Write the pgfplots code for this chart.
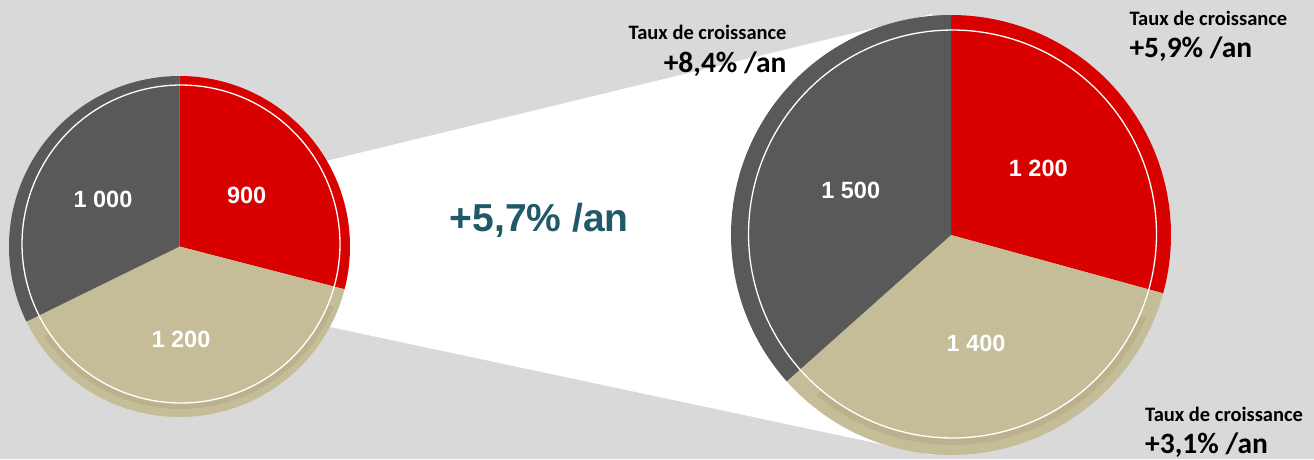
\documentclass[border=0pt]{standalone}
\usepackage{pgfplots}
\usepackage{pgfplotstable}
\pgfplotsset{compat=1.18}
\usepackage{fontspec}
\setmainfont{Liberation Sans}
\newfontfamily\calib{Carlito}
\definecolor{bg}{HTML}{D9D9D9}
\definecolor{cRed}{HTML}{D90000}
\definecolor{cGray}{HTML}{595959}
\definecolor{cTan}{HTML}{C4BD97}
\definecolor{cTanDark}{HTML}{ACA682}
\definecolor{cTeal}{HTML}{215968}

\pgfplotstableread{
part value
red 900
tan 1200
gray 1000
}\leftpie
\pgfplotstableread{
part value
red 1200
tan 1400
gray 1500
}\rightpie

\pgfplotstablegetelem{0}{value}\of\leftpie \let\La\pgfplotsretval
\pgfplotstablegetelem{1}{value}\of\leftpie \let\Lb\pgfplotsretval
\pgfplotstablegetelem{2}{value}\of\leftpie \let\Lc\pgfplotsretval
\pgfplotstablegetelem{0}{value}\of\rightpie \let\Ra\pgfplotsretval
\pgfplotstablegetelem{1}{value}\of\rightpie \let\Rb\pgfplotsretval
\pgfplotstablegetelem{2}{value}\of\rightpie \let\Rc\pgfplotsretval
\pgfmathsetmacro\LT{\La+\Lb+\Lc}
\pgfmathsetmacro\LaEnd{90-360*(\La/\LT)}
\pgfmathsetmacro\LbEnd{\LaEnd-360*(\Lb/\LT)}
\pgfmathsetmacro\RT{\Ra+\Rb+\Rc}
\pgfmathsetmacro\RaEnd{90-360*(\Ra/\RT)}
\pgfmathsetmacro\RbEnd{\RaEnd-360*(\Rb/\RT)}

% geometry (pixel units)
\def\Lcx{179.5}\def\Lcy{246.5}\def\LR{170.5}
\def\Lwx{181}\def\Lwy{244}\def\Lwr{159}
\def\Rcx{951}\def\Rcy{235}\def\RR{220}
\def\Rwx{952.5}\def\Rwy{234}\def\Rwr{204}

\begin{document}
\begin{tikzpicture}
\useasboundingbox (0,0) rectangle (1314pt,459pt);
\begin{axis}[
  width=1314pt, height=459pt, scale only axis,
  xmin=0, xmax=1314, ymin=0, ymax=459, y dir=reverse,
  hide axis, clip=true,
]
% background
\addplot[fill=bg, draw=none] coordinates {(0,0) (1314,0) (1314,459) (0,459)} -- cycle;
% connector
\addplot[fill=white, draw=none] coordinates {(300,167.3) (932,14) (932,455) (300,320.6)} -- cycle;

% left pie
\addplot[fill=cRed, draw=none, domain=\LaEnd:90, samples=100, variable=\t]
  ({\Lcx+\LR*cos(\t)},{\Lcy-\LR*sin(\t)}) -- (axis cs:\Lcx,\Lcy) -- cycle;
\addplot[fill=cTan, draw=none, domain=\LbEnd:\LaEnd, samples=100, variable=\t]
  ({\Lcx+\LR*cos(\t)},{\Lcy-\LR*sin(\t)}) -- (axis cs:\Lcx,\Lcy) -- cycle;
\addplot[fill=cGray, draw=none, domain=-270:\LbEnd, samples=100, variable=\t]
  ({\Lcx+\LR*cos(\t)},{\Lcy-\LR*sin(\t)}) -- (axis cs:\Lcx,\Lcy) -- cycle;
% soft shade on the bottom rim
\addplot[draw=cTanDark, opacity=0.45, line width=5pt, domain=\LbEnd+8:\LaEnd-8, samples=80, variable=\t]
  ({\Lwx+(\Lwr+3.5)*cos(\t)},{\Lwy-(\Lwr+3.5)*sin(\t)});
\addplot[draw=white, line width=1.3pt, domain=0:360, samples=150, variable=\t]
  ({\Lwx+\Lwr*cos(\t)},{\Lwy-\Lwr*sin(\t)});

% right pie
\addplot[fill=cRed, draw=none, domain=\RaEnd:90, samples=100, variable=\t]
  ({\Rcx+\RR*cos(\t)},{\Rcy-\RR*sin(\t)}) -- (axis cs:\Rcx,\Rcy) -- cycle;
\addplot[fill=cTan, draw=none, domain=\RbEnd:\RaEnd, samples=100, variable=\t]
  ({\Rcx+\RR*cos(\t)},{\Rcy-\RR*sin(\t)}) -- (axis cs:\Rcx,\Rcy) -- cycle;
\addplot[fill=cGray, draw=none, domain=-270:\RbEnd, samples=100, variable=\t]
  ({\Rcx+\RR*cos(\t)},{\Rcy-\RR*sin(\t)}) -- (axis cs:\Rcx,\Rcy) -- cycle;
\addplot[draw=cTanDark, opacity=0.45, line width=6pt, domain=\RbEnd+8:\RaEnd-8, samples=80, variable=\t]
  ({\Rwx+(\Rwr+4)*cos(\t)},{\Rwy-(\Rwr+4)*sin(\t)});
\addplot[draw=white, line width=1.3pt, domain=0:360, samples=180, variable=\t]
  ({\Rwx+\Rwr*cos(\t)},{\Rwy-\Rwr*sin(\t)});

% pie labels
\begin{scope}[every node/.style={anchor=base, inner sep=0pt, text=white, font=\fontsize{23.5}{26}\selectfont\bfseries}]
\node at (axis cs:246.7,203.3) {900};
\node at (axis cs:103,207.7) {1 000};
\node at (axis cs:181,347.7) {1 200};
\node at (axis cs:1038.3,176) {1 200};
\node at (axis cs:850.7,198.7) {1 500};
\node at (axis cs:976,351) {1 400};
\end{scope}

\node[anchor=base, inner sep=0pt, text=cTeal, font=\fontsize{39}{44}\selectfont\bfseries] at (axis cs:539.3,231) {+5,7\% /an};

% growth annotations
\begin{scope}[every node/.style={inner sep=0pt, text=black}]
\node[anchor=base east, font=\calib\fontsize{20.5}{23}\selectfont\bfseries] at (axis cs:786.7,39.3) {Taux de croissance};
\node[anchor=base east, font=\calib\fontsize{29.5}{33}\selectfont\bfseries] at (axis cs:786.7,72.7) {+8,4\% /an};
\node[anchor=base west, font=\calib\fontsize{20.5}{23}\selectfont\bfseries] at (axis cs:1129.3,25) {Taux de croissance};
\node[anchor=base west, font=\calib\fontsize{29.5}{33}\selectfont\bfseries] at (axis cs:1129.3,57.3) {+5,9\% /an};
\node[anchor=base west, font=\calib\fontsize{20.5}{23}\selectfont\bfseries] at (axis cs:1145,421) {Taux de croissance};
\node[anchor=base west, font=\calib\fontsize{29.5}{33}\selectfont\bfseries] at (axis cs:1145,453) {+3,1\% /an};
\end{scope}
\end{axis}
\end{tikzpicture}
\end{document}
